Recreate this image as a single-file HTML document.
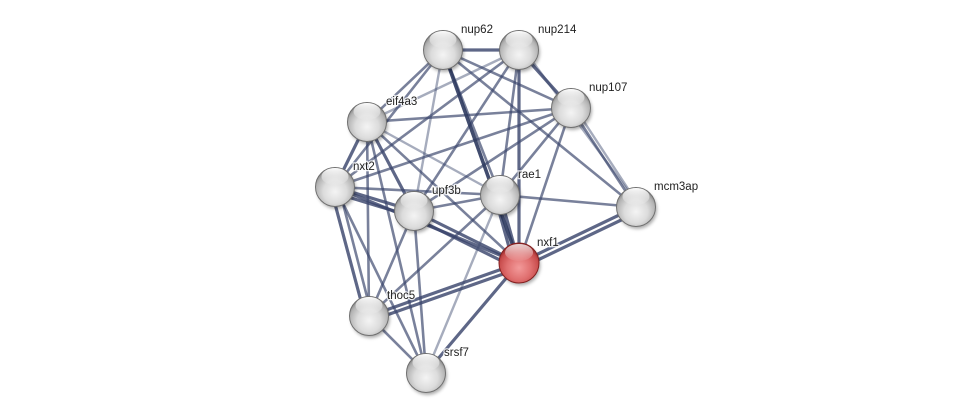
<!DOCTYPE html>
<html>
<head>
<meta charset="utf-8">
<style>
html,body{margin:0;padding:0;background:#fff;}
svg{display:block;}
text{font-family:"Liberation Sans",sans-serif;font-size:11.5px;fill:#222;}
</style>
</head>
<body>
<svg width="975" height="418" viewBox="0 0 975 418" xmlns="http://www.w3.org/2000/svg">
<defs>
  <radialGradient id="gg" cx="0.5" cy="0.62" r="0.6">
    <stop offset="0" stop-color="#f4f4f4"/>
    <stop offset="0.5" stop-color="#dcdcdc"/>
    <stop offset="0.82" stop-color="#b4b4b4"/>
    <stop offset="1" stop-color="#808080"/>
  </radialGradient>
  <radialGradient id="rg" cx="0.5" cy="0.62" r="0.6">
    <stop offset="0" stop-color="#f39a9a"/>
    <stop offset="0.5" stop-color="#e07070"/>
    <stop offset="0.82" stop-color="#c84c4c"/>
    <stop offset="1" stop-color="#8c2626"/>
  </radialGradient>
  <linearGradient id="hl" x1="0" y1="0" x2="0" y2="1">
    <stop offset="0" stop-color="#fff" stop-opacity="1"/>
    <stop offset="1" stop-color="#fff" stop-opacity="0.05"/>
  </linearGradient>
  <filter id="sh" x="-50%" y="-50%" width="200%" height="200%">
    <feGaussianBlur stdDeviation="1.6"/>
  </filter>
</defs>
<rect width="975" height="418" fill="#fff"/>

<g stroke="#3a466c" stroke-linecap="round" fill="none">
  <g stroke-width="2.4" stroke-opacity="0.45">
    <line x1="519" y1="50" x2="367" y2="122"/>
    <line x1="524" y1="50" x2="640" y2="207"/>
    <line x1="575" y1="108" x2="640" y2="207"/>
    <line x1="367" y1="122" x2="500" y2="195"/>
    <line x1="500" y1="195" x2="426" y2="373"/>
    <line x1="443" y1="50" x2="414" y2="211"/>
  </g>
  <g stroke-width="2.6" stroke-opacity="0.68">
    <line x1="443" y1="50" x2="367" y2="122"/>
    <line x1="443" y1="50" x2="335" y2="187"/>
    <line x1="443" y1="50" x2="571" y2="108"/>
    <line x1="443" y1="50" x2="636" y2="207"/>
    <line x1="519" y1="50" x2="335" y2="187"/>
    <line x1="519" y1="50" x2="414" y2="211"/>
    <line x1="519" y1="50" x2="500" y2="195"/>
    <line x1="571" y1="108" x2="367" y2="122"/>
    <line x1="571" y1="108" x2="335" y2="187"/>
    <line x1="571" y1="108" x2="414" y2="211"/>
    <line x1="571" y1="108" x2="500" y2="195"/>
    <line x1="571" y1="108" x2="519" y2="263"/>
    <line x1="571" y1="108" x2="636" y2="207"/>
    <line x1="367" y1="122" x2="519" y2="263"/>
    <line x1="367" y1="122" x2="369" y2="316"/>
    <line x1="367" y1="122" x2="426" y2="373"/>
    <line x1="335" y1="187" x2="500" y2="195"/>
    <line x1="335" y1="187" x2="426" y2="373"/>
    <line x1="414" y1="211" x2="500" y2="195"/>
    <line x1="414" y1="211" x2="369" y2="316"/>
    <line x1="414" y1="211" x2="426" y2="373"/>
    <line x1="500" y1="195" x2="636" y2="207"/>
    <line x1="500" y1="195" x2="369" y2="316"/>
    <line x1="369" y1="316" x2="426" y2="373"/>
    <line x1="339" y1="188" x2="372" y2="316"/>
    <line x1="443" y1="50" x2="500" y2="195"/>
  </g>
  <g stroke-width="3.2" stroke-opacity="0.82">
    <line x1="443" y1="50" x2="519" y2="50"/>
    <line x1="519" y1="50" x2="571" y2="108"/>
    <line x1="519" y1="50" x2="519" y2="263"/>
    <line x1="367" y1="122" x2="335" y2="187"/>
    <line x1="367" y1="122" x2="414" y2="211"/>
    <line x1="335" y1="187" x2="414" y2="211"/>
    <line x1="335" y1="193" x2="414" y2="217"/>
    <line x1="335" y1="187" x2="519" y2="263"/>
    <line x1="331" y1="189" x2="365" y2="316"/>
    <line x1="414" y1="211" x2="519" y2="263"/>
    <line x1="411" y1="216" x2="516" y2="268"/>
    <line x1="500" y1="195" x2="519" y2="263"/>
    <line x1="495" y1="197" x2="514" y2="265"/>
    <line x1="519" y1="263" x2="636" y2="207"/>
    <line x1="521" y1="268" x2="638" y2="212"/>
    <line x1="519" y1="263" x2="369" y2="316"/>
    <line x1="520" y1="268" x2="370" y2="321"/>
    <line x1="519" y1="263" x2="426" y2="373"/>
  </g>
  <g stroke-width="3.6" stroke-opacity="0.9" stroke="#2c385e">
    <line x1="443" y1="50" x2="519" y2="263"/>
  </g>
</g>

<g>
  <g fill="#000" fill-opacity="0.32" filter="url(#sh)">
    <circle cx="444.5" cy="52.5" r="19.5"/>
    <circle cx="520.5" cy="52.5" r="19.5"/>
    <circle cx="572.5" cy="110.5" r="19.5"/>
    <circle cx="368.5" cy="124.5" r="19.5"/>
    <circle cx="336.5" cy="189.5" r="19.5"/>
    <circle cx="415.5" cy="213.5" r="19.5"/>
    <circle cx="501.5" cy="197.5" r="19.5"/>
    <circle cx="637.5" cy="209.5" r="19.5"/>
    <circle cx="520.5" cy="265.5" r="20"/>
    <circle cx="370.5" cy="318.5" r="19.5"/>
    <circle cx="427.5" cy="375.5" r="19.5"/>
  </g>
  <g stroke="#707070" stroke-width="1" fill="url(#gg)">
    <circle cx="443" cy="50" r="19.5"/>
    <circle cx="519" cy="50" r="19.5"/>
    <circle cx="571" cy="108" r="19.5"/>
    <circle cx="367" cy="122" r="19.5"/>
    <circle cx="335" cy="187" r="19.5"/>
    <circle cx="414" cy="211" r="19.5"/>
    <circle cx="500" cy="195" r="19.5"/>
    <circle cx="636" cy="207" r="19.5"/>
    <circle cx="369" cy="316" r="19.5"/>
    <circle cx="426" cy="373" r="19.5"/>
  </g>
  <circle cx="519" cy="263" r="20" fill="url(#rg)" stroke="#842020" stroke-width="1"/>
  <g fill="url(#hl)">
    <ellipse cx="443" cy="39.5" rx="13.5" ry="8.5"/>
    <ellipse cx="519" cy="39.5" rx="13.5" ry="8.5"/>
    <ellipse cx="571" cy="97.5" rx="13.5" ry="8.5"/>
    <ellipse cx="367" cy="111.5" rx="13.5" ry="8.5"/>
    <ellipse cx="335" cy="176.5" rx="13.5" ry="8.5"/>
    <ellipse cx="414" cy="200.5" rx="13.5" ry="8.5"/>
    <ellipse cx="500" cy="184.5" rx="13.5" ry="8.5"/>
    <ellipse cx="636" cy="196.5" rx="13.5" ry="8.5"/>
    <ellipse cx="519" cy="252.5" rx="14" ry="8.5" fill-opacity="0.8"/>
    <ellipse cx="369" cy="305.5" rx="13.5" ry="8.5"/>
    <ellipse cx="426" cy="362.5" rx="13.5" ry="8.5"/>
  </g>
</g>

<g stroke="#fff" stroke-width="2.5" stroke-opacity="0.8" paint-order="stroke">
  <text x="461" y="33">nup62</text>
  <text x="538" y="33">nup214</text>
  <text x="589" y="91">nup107</text>
  <text x="386" y="105">eif4a3</text>
  <text x="353" y="170">nxt2</text>
  <text x="432" y="194">upf3b</text>
  <text x="518" y="178">rae1</text>
  <text x="654" y="190">mcm3ap</text>
  <text x="537" y="246">nxf1</text>
  <text x="387" y="299">thoc5</text>
  <text x="444" y="356">srsf7</text>
</g>
</svg>
</body>
</html>
